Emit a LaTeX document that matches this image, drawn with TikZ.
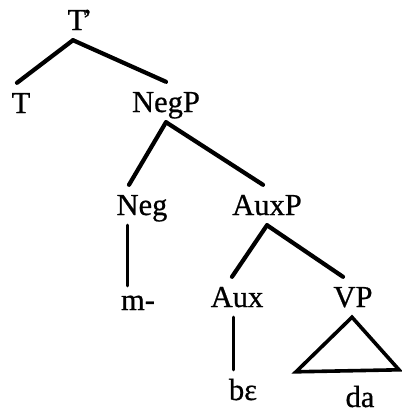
\documentclass[tikz,border=0pt]{standalone}
\usepackage{fontspec}
\setmainfont{Liberation Serif}
\newfontfamily\treefont{Liberation Serif}[FakeBold=0.7]

\begin{document}
\begin{tikzpicture}[x=1pt, y=-1pt,
  every node/.style={font=\treefont\fontsize{30.5}{36}\selectfont, anchor=base,
    inner xsep=0pt, inner ysep=10pt, text height=20pt, text depth=0pt},
  branch/.style={line width=4.2pt, line cap=round},
  stem/.style={line width=3pt, line cap=round},
  roof/.style={line width=3.6pt, line cap=round}]
  \useasboundingbox (0,0) rectangle (402,413);

  % labels (baseline positions)
  \node (tbar) at (80,30) {T\kern-4pt’};
  \node (t)    at (21,113) {T};
  \node (negp) at (166,112) {NegP};
  \node (neg)  at (142,215) {Neg};
  \node (auxp) at (267,215) {AuxP};
  \node[text height=14pt] (m) at (138,310) {m-};
  \node (aux)  at (237,307) {Aux};
  \node (vp)   at (353,307) {VP};
  \node (be)   at (243,400) {bɛ};
  \node[inner ysep=2pt] (da) at (360,407) {da};

  % branches
  \draw[branch] ([xshift=-7pt]tbar.south) -- ([xshift=-4pt]t.north);
  \draw[branch] ([xshift=-7pt]tbar.south) -- (negp.north);
  \draw[branch] (negp.south) -- ([xshift=-13pt]neg.north);
  \draw[branch] (negp.south) -- ([xshift=-4pt]auxp.north);
  \draw[branch] (auxp.south) -- ([xshift=-5pt]aux.north);
  \draw[branch] (auxp.south) -- ([xshift=-10pt]vp.north);

  % unary stems
  \draw[stem] ([xshift=-15pt]neg.south) -- ([xshift=-11pt]m.north);
  \draw[stem] ([xshift=-4pt]aux.south) -- ([xshift=-10pt]be.north);

  % roof over da
  \draw[roof] ([xshift=-1pt]vp.south) -- ([xshift=-64pt,yshift=13pt]da.north)
    -- ([xshift=39pt,yshift=15pt]da.north) -- cycle;
\end{tikzpicture}
\end{document}
